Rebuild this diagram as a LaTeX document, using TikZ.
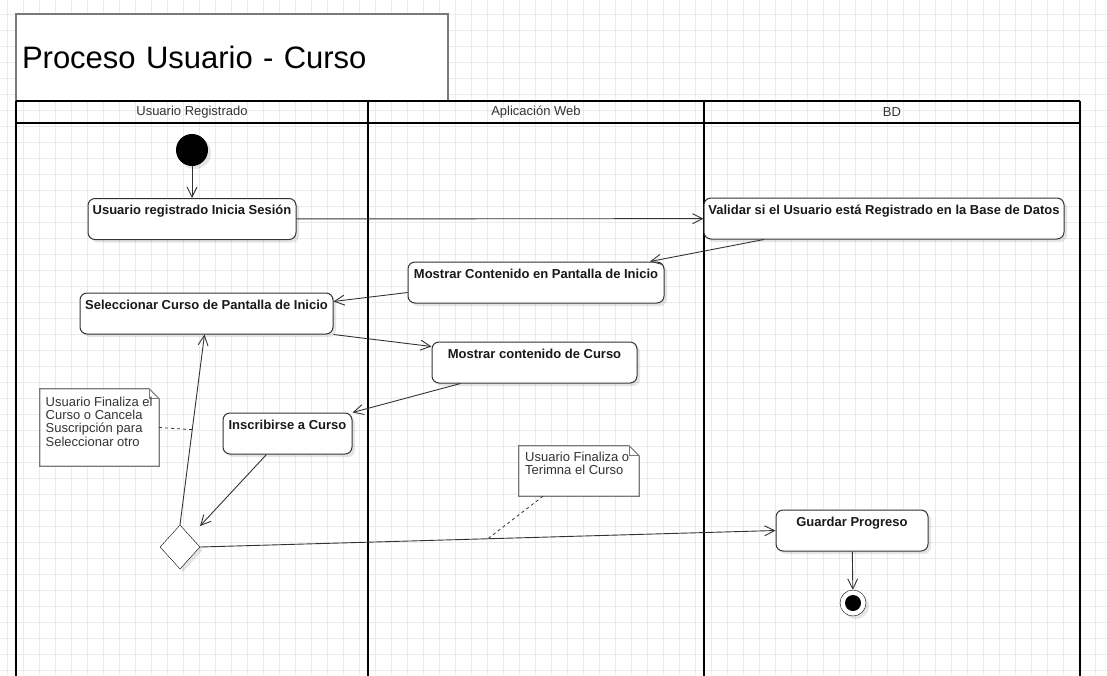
\documentclass[tikz,border=0pt]{standalone}
\usepackage{fontspec}
\setmainfont{Liberation Sans}
\usetikzlibrary{shapes.geometric,arrows.meta,shadows,calc}
\definecolor{gridgray}{HTML}{EBEBEB}
\definecolor{edgegray}{HTML}{333333}
\definecolor{framegray}{HTML}{7A7A7A}
\tikzstyle{gridline} = [draw=gridgray, line width=1pt]
\tikzstyle{titlebox} = [rectangle, draw=framegray, fill=white, line width=1.5pt,
    minimum height=87pt, text width=420pt, align=left, inner xsep=6pt,
    font=\fontsize{31}{34}\selectfont]
\tikzstyle{lane} = [draw, black, line width=2pt]
\tikzstyle{lanehead} = [font=\fontsize{13}{15}\selectfont, text=edgegray]
\tikzstyle{activity} = [rectangle, rounded corners=7pt, draw=edgegray, fill=white,
    line width=1pt, inner xsep=4pt, inner ysep=3pt, text height=13pt, text depth=22pt,
    font=\bfseries\fontsize{13}{15}\selectfont, text=black!90,
    drop shadow={shadow xshift=3pt, shadow yshift=-3pt, opacity=0.1, fill=black}]
\tikzstyle{startdot} = [circle, fill=black, minimum size=32pt, inner sep=0pt,
    drop shadow={shadow xshift=3pt, shadow yshift=-3pt, opacity=0.1, fill=black}]
\tikzstyle{enddot} = [circle, draw=black, fill=white, minimum size=26pt, inner sep=0pt,
    path picture={\fill[black] (path picture bounding box.center) circle (8pt);},
    drop shadow={shadow xshift=3pt, shadow yshift=-3pt, opacity=0.1, fill=black}]
\tikzstyle{decision} = [diamond, draw=black, fill=white, minimum width=40pt,
    minimum height=44pt, inner sep=0pt,
    drop shadow={shadow xshift=3pt, shadow yshift=-3pt, opacity=0.1, fill=black}]
\tikzstyle{notebox} = [rectangle, draw=none, inner sep=0pt]
\tikzstyle{noteedge} = [draw=framegray, fill=white, line width=1.2pt]
\tikzstyle{notetext} = [anchor=north west, inner sep=0pt, align=left,
    font=\fontsize{13}{13.4}\selectfont, text=edgegray]
\tikzstyle{line} = [draw, edgegray, line width=0.9pt, -{Straight Barb[length=10pt,width=10pt]}]
\tikzstyle{noteline} = [draw, edgegray, line width=0.8pt, dash pattern=on 3pt off 3pt]
\newcommand{\noteshape}[1]{%
  \path [noteedge] (#1.north west) -- ([xshift=-10pt]#1.north east)
    -- ([yshift=-10pt]#1.north east) -- (#1.south east) -- (#1.south west) -- cycle;
  \path [noteedge, fill=none] ([xshift=-10pt]#1.north east)
    -- ([xshift=-10pt,yshift=-10pt]#1.north east) -- ([yshift=-10pt]#1.north east);}

\begin{document}
\begin{tikzpicture}[x=1pt, y=-1pt]
    \useasboundingbox (0,0) rectangle (1107,675);
    \fill [white] (0,0) rectangle (1107,675);
    % Grid
    \foreach \gx in {7.5,23.5,...,1107} \draw [gridline] (\gx,0) -- (\gx,675);
    \foreach \gy in {14,30,...,675} \draw [gridline] (0,\gy) -- (1107,\gy);
    % Title and lanes
    \node [titlebox] (title) at (232,57.5) {Proceso Usuario - Curso};
    \draw [lane] (16,101) -- (1080,101);
    \draw [lane] (16,123) -- (1080,123);
    \foreach \lx in {16,368,704,1080} \draw [lane] (\lx,101) -- (\lx,676);
    \node [lanehead] (hUser) at (192,112) {Usuario Registrado};
    \node [lanehead] (hWeb) at (536,112) {Aplicación Web};
    \node [lanehead] (hDb) at (892,112) {BD};
    % Place nodes
    \node [startdot] (start) at (192,150) {};
    \node [activity, minimum width=208pt] (login) at (192,219) {Usuario registrado Inicia Sesión};
    \node [activity, minimum width=360pt] (check) at (884,218.5) {Validar si el Usuario está Registrado en la Base de Datos};
    \node [activity, minimum width=256pt] (home) at (536,282.5) {Mostrar Contenido en Pantalla de Inicio};
    \node [activity, minimum width=253pt] (pick) at (206.5,313.5) {Seleccionar Curso de Pantalla de Inicio};
    \node [activity, minimum width=205pt] (course) at (534.5,362.5) {Mostrar contenido de Curso};
    \node [activity, minimum width=129pt] (enrol) at (287.5,433.5) {Inscribirse a Curso};
    \node [decision] (choice) at (180,547) {};
    \node [activity, minimum width=152pt] (save) at (852,530.5) {Guardar Progreso};
    \node [enddot] (stop) at (853,603) {};
    % Notes
    \node [notebox, minimum width=119pt, minimum height=77pt] (note1) at (99.5,427.5) {};
    \noteshape{note1}
    \node [notetext] (note1txt) at (45.5,396.5) {Usuario Finaliza el\\Curso o Cancela\\Suscripción para\\Seleccionar otro};
    \node [notebox, minimum width=120pt, minimum height=50pt] (note2) at (579,471) {};
    \noteshape{note2}
    \node [notetext] (note2txt) at (525,451.5) {Usuario Finaliza o\\Terimna el Curso};
    % Draw edges
    \path [line] (start) -- (login);
    \path [line] (login) -- (check);
    \path [line] ([xshift=-120pt]check.south) -- ([xshift=114pt]home.north);
    \path [line] ([yshift=-10pt]home.west) -- ([yshift=12pt]pick.east);
    \path [line] (pick.south east) -- ([yshift=16pt]course.west);
    \path [line] ([xshift=-74pt]course.south) -- (enrol.north east);
    \path [line] ([xshift=-21pt]enrol.south) -- ([xshift=20pt,yshift=21pt]choice.center);
    \path [line] (choice.north) -- coordinate[pos=0.5] (loopmid) ([xshift=-2pt]pick.south);
    \path [line] (choice.east) -- coordinate[pos=0.5] (exitmid) (save.west);
    \path [line] (save) -- (stop);
    \path [noteline] (note1.east) -- (loopmid);
    \path [noteline] ([xshift=-36pt]note2.south) -- (exitmid);
\end{tikzpicture}
\end{document}
